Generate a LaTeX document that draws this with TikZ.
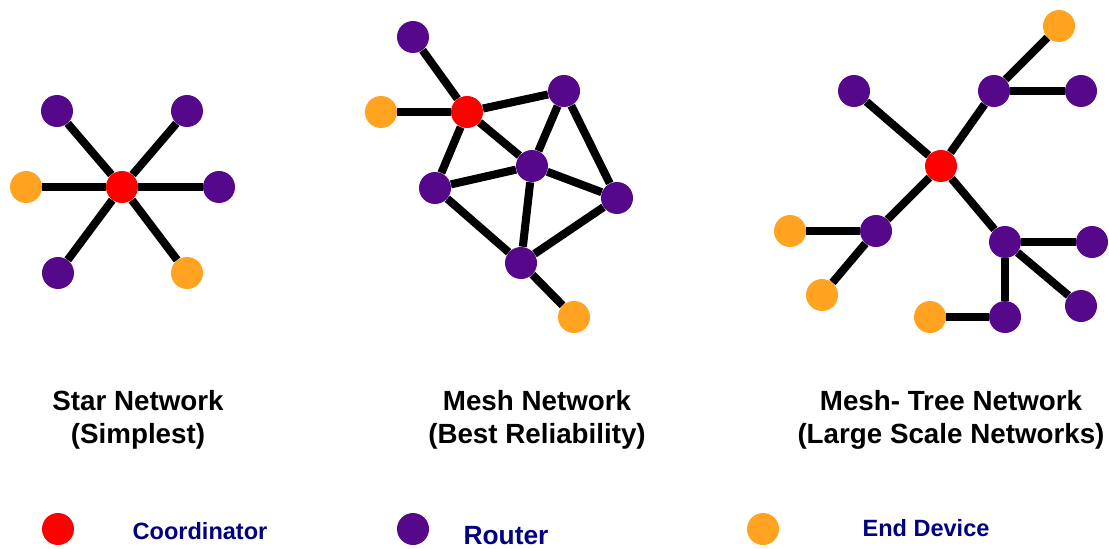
\documentclass[tikz,border=0pt]{standalone}
\usepackage{fontspec}
\setmainfont{Liberation Sans}
\usepackage{xcolor}
\usepackage{tikz}
\usetikzlibrary{positioning}

\definecolor{coordred}{RGB}{255,0,0}
\definecolor{routerpurple}{RGB}{86,8,138}
\definecolor{devorange}{RGB}{255,163,33}
\definecolor{legendblue}{RGB}{0,0,128}

\begin{document}
\begin{tikzpicture}[x=0.02cm, y=-0.02cm]
    % Styles des noeuds et des liens
    \tikzset{
        coord/.style   = {circle, fill=coordred, minimum size=0.64cm, inner sep=0pt},
        router/.style  = {circle, fill=routerpurple, minimum size=0.64cm, inner sep=0pt},
        enddev/.style  = {circle, fill=devorange, minimum size=0.64cm, inner sep=0pt},
        line/.style    = {draw, line width=4.6pt},
        title/.style   = {font=\fontsize{15.8}{18.7}\selectfont\bfseries, align=center, anchor=base},
        legend/.style  = {font=\fontsize{13.4}{16}\selectfont\bfseries, text=legendblue, inner sep=0pt}
    }
    \useasboundingbox (0,0) rectangle (1109,548);

    % Réseau en étoile
    \node [coord]  (s0) at (122,187) {};
    \node [router] (s1) at (57,111) {};
    \node [router] (s2) at (187,111) {};
    \node [router] (s3) at (219,187) {};
    \node [enddev] (s4) at (26,187) {};
    \node [router] (s5) at (58,273) {};
    \node [enddev] (s6) at (187,273) {};

    \foreach \n in {s1,s2,s3,s4,s5,s6}
        \path [line] (s0) -- (\n);

    % Réseau maillé
    \node [router] (m1) at (413,37) {};
    \node [enddev] (m2) at (381,112) {};
    \node [coord]  (m0) at (467,112) {};
    \node [router] (m3) at (564,91) {};
    \node [router] (m4) at (532,166) {};
    \node [router] (m5) at (435,188) {};
    \node [router] (m6) at (617,198) {};
    \node [router] (m7) at (521,263) {};
    \node [enddev] (m8) at (574,317) {};

    \path [line] (m1) -- (m0);
    \path [line] (m2) -- (m0);
    \path [line] (m0) -- (m3);
    \path [line] (m0) -- (m4);
    \path [line] (m0) -- (m5);
    \path [line] (m3) -- (m4);
    \path [line] (m3) -- (m6);
    \path [line] (m5) -- (m4);
    \path [line] (m4) -- (m6);
    \path [line] (m5) -- (m7);
    \path [line] (m4) -- (m7);
    \path [line] (m6) -- (m7);
    \path [line] (m7) -- (m8);

    % Réseau maillé-arbre
    \node [coord]  (t0)  at (941,166) {};
    \node [router] (t1)  at (854,91) {};
    \node [router] (t2)  at (994,91) {};
    \node [enddev] (t3)  at (1059,26) {};
    \node [router] (t4)  at (1081,91) {};
    \node [router] (t5)  at (876,231) {};
    \node [enddev] (t6)  at (790,231) {};
    \node [enddev] (t7)  at (822,295) {};
    \node [router] (t8)  at (1005,242) {};
    \node [router] (t9)  at (1092,242) {};
    \node [router] (t10) at (1081,306) {};
    \node [router] (t11) at (1005,317) {};
    \node [enddev] (t12) at (930,317) {};

    \path [line] (t0) -- (t1);
    \path [line] (t0) -- (t2);
    \path [line] (t2) -- (t3);
    \path [line] (t2) -- (t4);
    \path [line] (t0) -- (t5);
    \path [line] (t5) -- (t6);
    \path [line] (t5) -- (t7);
    \path [line] (t0) -- (t8);
    \path [line] (t8) -- (t9);
    \path [line] (t8) -- (t10);
    \path [line] (t8) -- (t11);
    \path [line] (t11) -- (t12);

    % Titres (ancrés sur la ligne de base de la dernière ligne)
    \node [title] (startitle) at (138,443) {Star Network\\(Simplest)};
    \node [title] (meshtitle) at (537,443) {Mesh Network\\(Best Reliability)};
    \node [title] (treetitle) at (951,443) {Mesh- Tree Network\\(Large Scale Networks)};

    % Légende
    \node [coord]  (lcoord)  at (58,529) {};
    \node [router] (lrouter) at (413,529) {};
    \node [enddev] (ldev)    at (763,529) {};
    \node [legend] (lcoordtxt)  at (200,531) {Coordinator};
    \node [legend, font=\fontsize{15}{18}\selectfont\bfseries] (lroutertxt) at (506,536) {Router};
    \node [legend] (ldevtxt)    at (926,528) {End Device};
\end{tikzpicture}
\end{document}
